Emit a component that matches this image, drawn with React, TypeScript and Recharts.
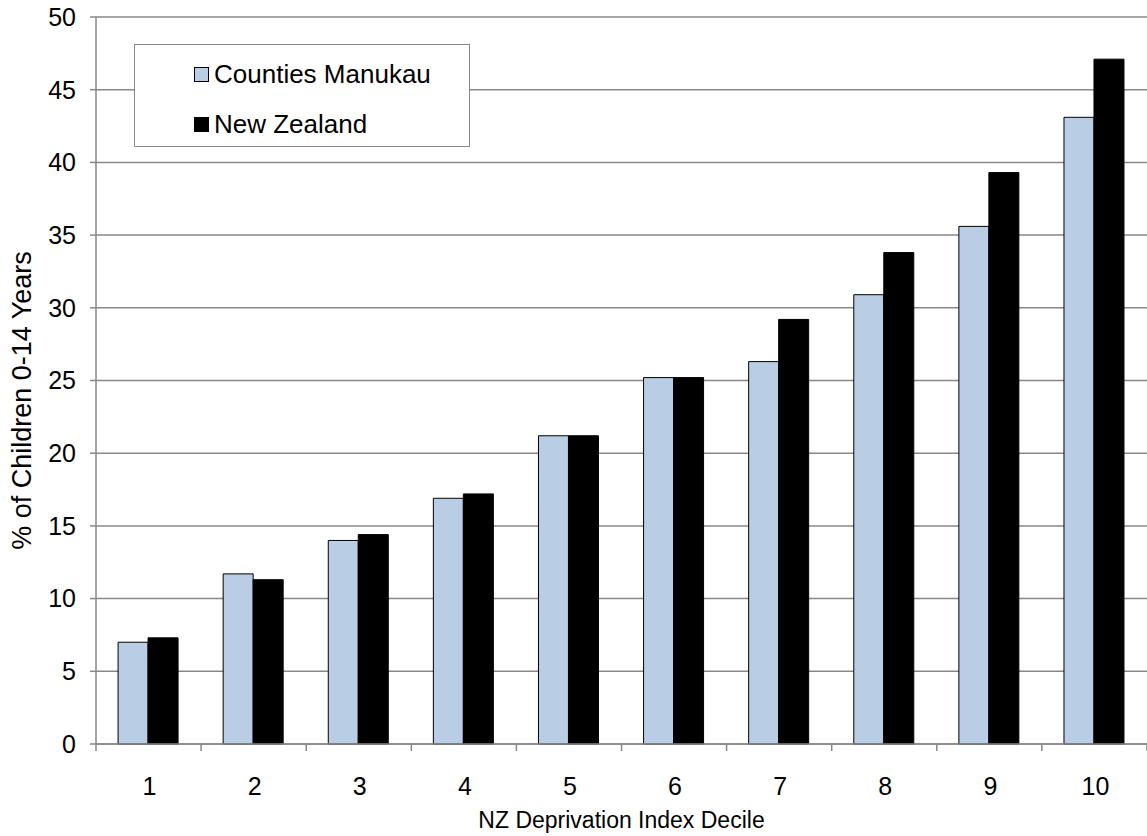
import React from "react";
import {
  BarChart,
  Bar,
  XAxis,
  YAxis,
  CartesianGrid,
  Legend,
  Label,
} from "recharts";

const deciles = ["1", "2", "3", "4", "5", "6", "7", "8", "9", "10"];
const countiesManukau = [7.0, 11.7, 14.0, 16.9, 21.2, 25.2, 26.3, 30.9, 35.6, 43.1];
const newZealand = [7.3, 11.3, 14.4, 17.2, 21.2, 25.2, 29.2, 33.8, 39.3, 47.1];
const yTicks = [0, 5, 10, 15, 20, 25, 30, 35, 40, 45, 50];

const seriesNames = ["Counties Manukau", "New Zealand"];
const seriesColors = ["#B9CDE5", "#000000"];

const FONT = "'Liberation Sans', Arial, sans-serif";
const PLOT_LEFT = 96;
const PLOT_RIGHT = 1147;
const BAND = (PLOT_RIGHT - PLOT_LEFT) / deciles.length;

const data = deciles.map((d, i) => ({
  decile: d,
  cm: countiesManukau[i],
  nz: newZealand[i],
}));

// ticks sit on the category boundaries, labels in the middle
function DecileTick(props: any) {
  const { x, y, payload, index } = props;
  const left = x - BAND / 2;
  return (
    <g>
      <line x1={left} y1={y} x2={left} y2={y + 7} stroke="#888" strokeWidth={1.5} />
      {index === deciles.length - 1 && (
        <line x1={x + BAND / 2} y1={y} x2={x + BAND / 2} y2={y + 7} stroke="#888" strokeWidth={1.5} />
      )}
      <text x={x + 1} y={y + 33} dy="0.71em" textAnchor="middle" fontSize={25} fill="#000" fontFamily={FONT}>
        {payload.value}
      </text>
    </g>
  );
}

function LegendBox() {
  return (
    <div
      style={{
        width: 336,
        height: 103,
        border: "1.5px solid #888",
        background: "#fff",
        fontFamily: FONT,
        fontSize: 26,
        color: "#000",
        boxSizing: "border-box",
        paddingLeft: 59,
        paddingTop: 4,
      }}
    >
      {seriesNames.map((name, i) => (
        <div key={name} style={{ display: "flex", alignItems: "center", height: 50 }}>
          <span
            style={{
              display: "inline-block",
              width: 13,
              height: 13,
              background: seriesColors[i],
              border: "1px solid #000",
              marginRight: 5,
            }}
          />
          <span>{name}</span>
        </div>
      ))}
    </div>
  );
}

export default function App() {
  return (
    <div style={{ position: "absolute", left: 0, top: 0, background: "#fff" }}>
      <BarChart
        width={1147}
        height={836}
        data={data}
        margin={{ top: 17, right: 0, bottom: 0, left: 0 }}
        barGap={0}
        barCategoryGap="21%"
      >
        <CartesianGrid vertical={false} stroke="#888" strokeWidth={1.5} />
        <XAxis
          dataKey="decile"
          height={92}
          tickSize={0}
          tickMargin={0}
          tickLine={false}
          tick={<DecileTick />}
          stroke="#888"
          strokeWidth={1.5}
          interval={0}
        >
          <Label
            value="NZ Deprivation Index Decile"
            position="insideBottom"
            offset={8}
            fontSize={23}
            fill="#000"
            fontFamily={FONT}
          />
        </XAxis>
        <YAxis
          width={PLOT_LEFT}
          domain={[0, 50]}
          ticks={yTicks}
          interval={0}
          tickSize={6}
          tickMargin={14}
          stroke="#888"
          strokeWidth={1.5}
          tick={{ fontSize: 25, fill: "#000", fontFamily: FONT }}
        >
          <Label
            content={({ viewBox }: any) => {
              const cy = viewBox.y + viewBox.height / 2 + 20;
              return (
                <text
                  x={22}
                  y={cy}
                  transform={`rotate(-90, 22, ${cy})`}
                  textAnchor="middle"
                  dominantBaseline="central"
                  fontSize={27}
                  fill="#000"
                  fontFamily={FONT}
                >
                  % of Children 0-14 Years
                </text>
              );
            }}
          />
        </YAxis>
        <Legend
          layout="vertical"
          align="center"
          verticalAlign="middle"
          content={() => <LegendBox />}
          wrapperStyle={{ position: "absolute", left: 134, top: 44, width: 336, height: 103 }}
        />
        <Bar
          dataKey="cm"
          name={seriesNames[0]}
          fill={seriesColors[0]}
          stroke="#000"
          strokeWidth={1}
          isAnimationActive={false}
        />
        <Bar
          dataKey="nz"
          name={seriesNames[1]}
          fill={seriesColors[1]}
          stroke="#000"
          strokeWidth={1}
          isAnimationActive={false}
        />
      </BarChart>
    </div>
  );
}
